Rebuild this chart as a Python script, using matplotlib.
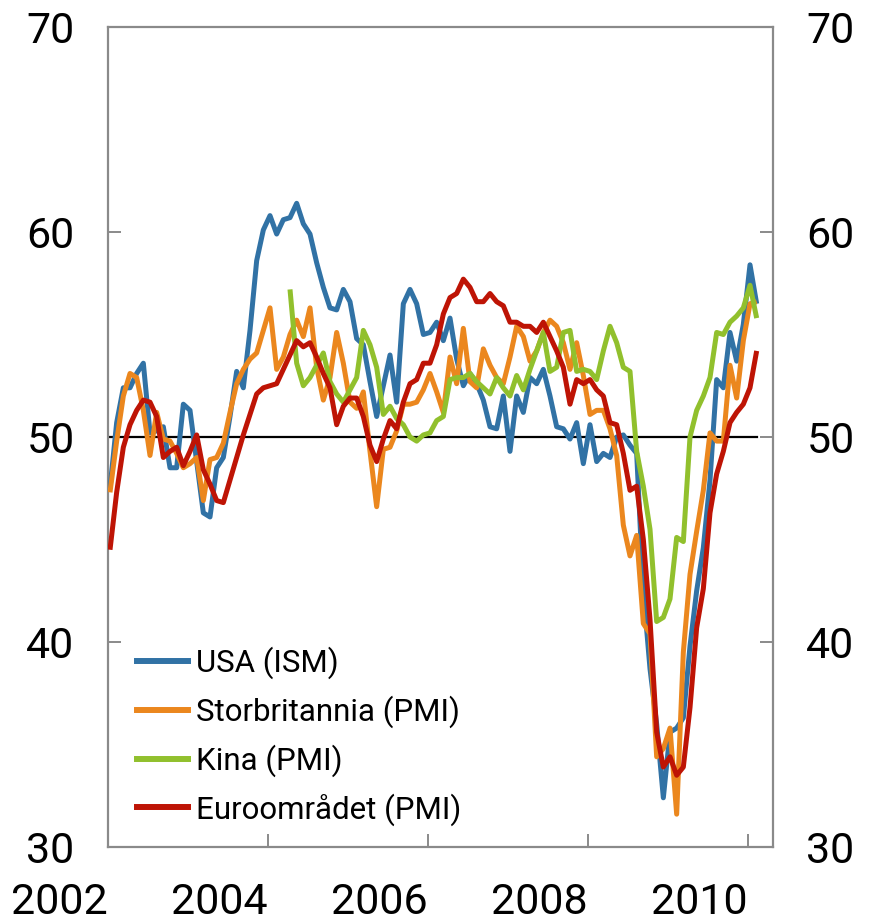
import matplotlib
matplotlib.use("Agg")
import matplotlib.pyplot as plt
from matplotlib.lines import Line2D
import numpy as np

plt.rcParams['font.family'] = ['Roboto', 'DejaVu Sans']

# Monthly index values, Jan 2002 - Feb 2010
usa_ism = [
    47.5, 50.7, 52.4, 52.4, 53.1, 53.6, 50.2, 50.3, 50.5, 48.5, 48.5, 51.6,
    51.3, 48.8, 46.3, 46.1, 48.5, 49.0, 51.0, 53.2, 52.4, 55.2, 58.6, 60.1,
    60.8, 59.9, 60.6, 60.7, 61.4, 60.4, 59.9, 58.5, 57.3, 56.3, 56.2, 57.2,
    56.6, 54.8, 54.5, 52.7, 51.0, 52.5, 54.0, 51.7, 56.5, 57.2, 56.5, 55.0,
    55.1, 55.6, 54.7, 55.8, 53.8, 52.5, 53.1, 52.6, 51.8, 50.5, 50.4, 52.0,
    49.3, 52.0, 51.2, 52.9, 52.6, 53.3, 52.0, 50.5, 50.4, 49.9, 50.7, 48.7,
    50.6, 48.8, 49.2, 49.0, 50.0, 50.1, 49.6, 49.2, 42.5, 38.7, 36.0, 32.4,
    35.6, 35.8, 36.3, 39.8, 42.5, 44.6, 47.9, 52.8, 52.4, 55.1, 53.7, 55.5,
    58.4, 56.5,
]
uk_pmi = [
    47.3, 49.8, 52.0, 53.1, 52.9, 51.3, 49.1, 51.2, 49.9, 49.8, 49.2, 48.5,
    48.7, 49.0, 46.9, 48.9, 49.0, 49.7, 51.2, 52.6, 53.3, 53.8, 54.1, 55.2,
    56.3, 53.3, 53.9, 55.0, 55.7, 54.9, 56.3, 53.4, 51.8, 52.9, 55.1, 53.6,
    51.7, 51.4, 52.2, 49.3, 46.6, 49.4, 49.5, 50.3, 51.6, 51.6, 51.7, 52.3,
    53.1, 52.2, 51.2, 53.9, 52.6, 55.3, 52.7, 52.4, 54.3, 53.5, 52.9, 52.6,
    53.9, 55.4, 54.9, 53.7, 54.2, 55.1, 55.7, 55.4, 54.6, 53.3, 54.6, 53.0,
    51.1, 51.3, 51.3, 50.4, 49.1, 45.7, 44.2, 45.2, 40.9, 40.4, 34.4, 34.8,
    35.8, 31.6, 39.5, 43.3, 45.4, 47.4, 50.2, 49.8, 49.8, 53.5, 51.9, 54.7,
    56.5, 56.6,
]
# China PMI starts Apr 2004
china_start_month = 27
china_pmi = [
                                57.2, 53.6, 52.5, 52.9, 53.5, 54.1, 52.7, 52.1, 51.7,
    52.3, 52.9, 55.2, 54.5, 53.4, 51.1, 51.5, 50.9, 50.6, 50.0, 49.8, 50.1,
    50.2, 50.8, 51.0, 52.8, 52.9, 52.9, 53.1, 52.7, 52.4, 52.1, 52.9, 52.4,
    52.0, 53.0, 52.3, 53.3, 54.2, 55.1, 53.2, 53.4, 55.1, 55.2, 53.2, 53.3,
    53.2, 52.8, 54.2, 55.4, 54.6, 53.4, 53.2, 49.3, 47.6, 45.5, 41.0, 41.2,
    42.1, 45.1, 44.9, 50.0, 51.3, 52.0, 52.9, 55.1, 55.0, 55.6, 55.9, 56.3,
    57.4, 55.8,
]
euro_pmi = [
    44.5, 47.3, 49.5, 50.6, 51.3, 51.8, 51.7, 51.0, 49.0, 49.3, 49.5, 48.6,
    49.3, 50.1, 48.4, 47.7, 46.9, 46.8, 47.9, 49.0, 50.1, 51.1, 52.1, 52.4,
    52.5, 52.6, 53.3, 54.0, 54.7, 54.4, 54.6, 53.9, 53.1, 52.4, 50.6, 51.5,
    51.9, 51.9, 51.0, 49.6, 48.8, 49.9, 50.8, 50.4, 51.7, 52.6, 52.8, 53.6,
    53.6, 54.5, 56.0, 56.8, 57.0, 57.7, 57.3, 56.6, 56.6, 57.0, 56.6, 56.4,
    55.6, 55.6, 55.4, 55.4, 55.1, 55.6, 54.9, 54.2, 53.4, 51.6, 52.8, 52.6,
    52.8, 52.3, 52.0, 50.7, 50.6, 49.2, 47.4, 47.6, 45.0, 41.1, 35.6, 33.9,
    34.4, 33.5, 33.9, 36.8, 40.7, 42.6, 46.3, 48.2, 49.3, 50.7, 51.2, 51.6,
    52.4, 54.2,
]

labels = ["USA (ISM)", "Storbritannia (PMI)", "Kina (PMI)", "Euroområdet (PMI)"]
colors = ["#3172a5", "#eb871e", "#91c02d", "#be1405"]
year_ticks = [2002, 2004, 2006, 2008, 2010]
y_ticks = [30, 40, 50, 60, 70]
start_year = 2002

fig = plt.figure(figsize=(8.75, 9.21), dpi=100)
ax = fig.add_axes([108 / 875, 1 - 847 / 921, 665 / 875, 820 / 921])

def xpos(n, offset=0):
    k = np.arange(n) + offset
    return start_year + (k + 0.3) / 12.0

x_all = xpos(len(usa_ism))
ax.plot([start_year, x_all[-1]], [50, 50], color="black", lw=1.6, zorder=2)

series = [
    (xpos(len(usa_ism)), usa_ism),
    (xpos(len(uk_pmi)), uk_pmi),
    (xpos(len(china_pmi), china_start_month), china_pmi),
    (xpos(len(euro_pmi)), euro_pmi),
]
for (xs, ys), c in zip(series, colors):
    ax.plot(xs, ys, color=c, lw=3.6, solid_joinstyle="round", solid_capstyle="butt", zorder=3)

ax.set_xlim(2002, 2002 + 665 / 80)
ax.set_ylim(30, 70)

spine_c = "#8a8a8a"
for s in ax.spines.values():
    s.set_color(spine_c)
    s.set_linewidth(1.6)

ax.set_yticks(y_ticks)
ax.set_xticks(year_ticks)
ax.tick_params(axis="y", which="both", direction="in", length=9.5, width=1.4,
               color=spine_c, left=True, right=True, labelleft=True, labelright=True,
               labelsize=31, pad=24)
ax.tick_params(axis="x", direction="in", length=9.5, width=1.4, color=spine_c,
               labelsize=31, pad=25)
for lab in ax.get_xticklabels():
    lab.set_horizontalalignment("right")

handles = [Line2D([0], [0], color=c, lw=4.3) for c in colors]
leg = ax.legend(handles, labels, loc="lower left", bbox_to_anchor=(0.0436, 0.026),
                frameon=False, fontsize=22.5, handlelength=1.63, handletextpad=0.26,
                labelspacing=0.52, borderpad=0, borderaxespad=0)

fig.savefig("out.png", dpi=100)
